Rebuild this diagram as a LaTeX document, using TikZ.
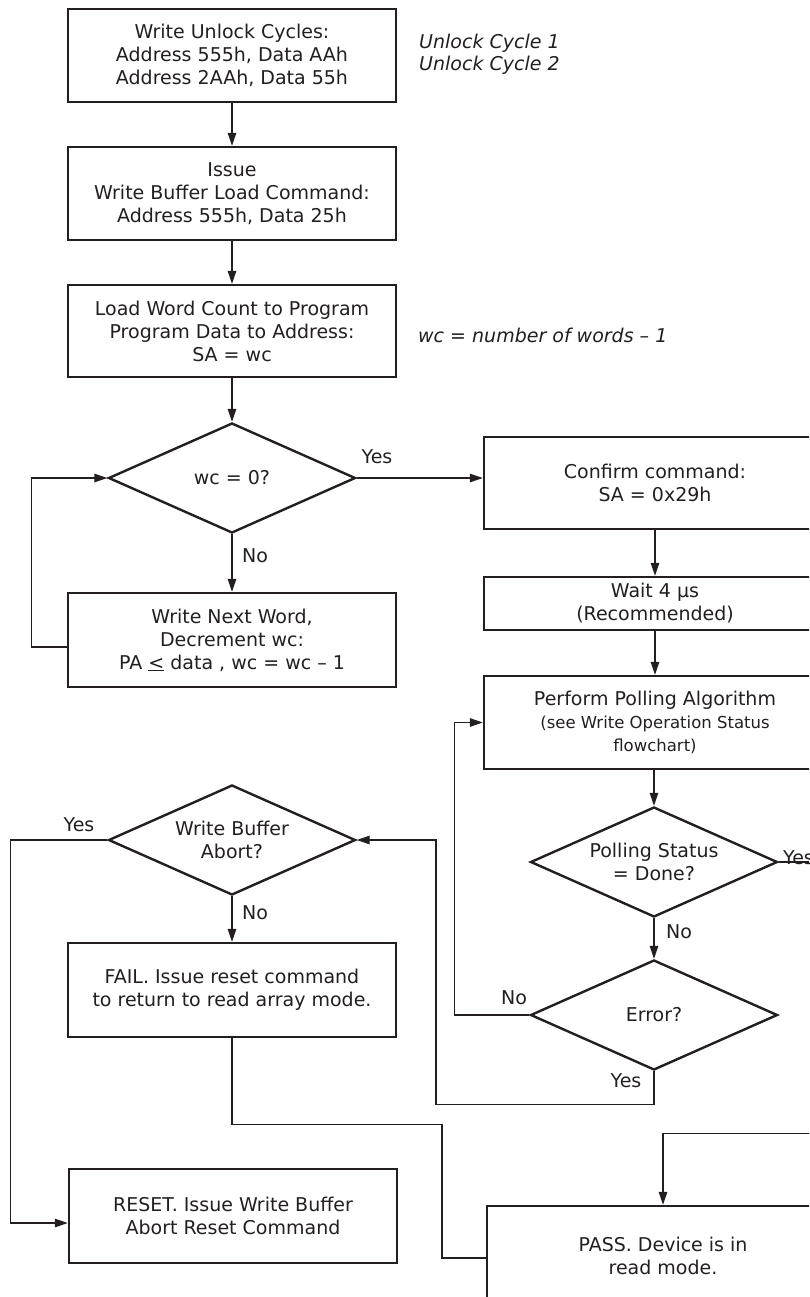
\documentclass[tikz,border=0pt]{standalone}
\usepackage{fontspec}
\setmainfont{DejaVu Sans}
\usetikzlibrary{shapes.geometric,arrows.meta,calc}
\definecolor{ink}{RGB}{35,31,32}
\newcommand\mainsz{\fontsize{19}{23}\selectfont}
\newcommand\smallsz{\fontsize{16.5}{21.5}\selectfont}
\tikzset{
  box/.style={draw=ink, line width=2.4pt, rectangle, align=center, inner sep=0pt,
              text=ink, font=\mainsz},
  dia/.style={draw=ink, line width=2.4pt, diamond, minimum width=247pt,
              minimum height=110pt, inner sep=0pt},
  txt/.style={text=ink, font=\mainsz, align=center, inner sep=0pt},
  note/.style={text=ink, font=\mainsz\itshape, align=left, inner sep=0pt, anchor=west},
  conn/.style={draw=ink, line width=1.3pt},
  arr/.style={conn, -{Triangle[length=13pt,width=8.5pt]}},
}
\begin{document}
\begin{tikzpicture}[x=1pt,y=-1pt]
\useasboundingbox (0,0) rectangle (809,1297);
\clip (0,0) rectangle (809,1297);
\fill[white] (0,0) rectangle (809,1297);

% left column
\node[box, minimum width=328pt, minimum height=93pt] (unlock) at (232,55.5)
  {Write Unlock Cycles:\\Address 555h, Data AAh\\Address 2AAh, Data 55h};
\node[box, minimum width=328pt, minimum height=93pt] (load) at (232,193.5)
  {Issue\\Write Buffer Load Command:\\Address 555h, Data 25h};
\node[box, minimum width=328pt, minimum height=92pt] (count) at (232,331)
  {Load Word Count to Program\\Program Data to Address:\\SA = wc};
\node[dia] (d1) at (232,478) {};
\node[txt] (d1t) at (d1) {wc = 0?};
\node[box, minimum width=328pt, minimum height=94pt] (next) at (232,640)
  {Write Next Word,\\Decrement wc:\\PA \underline{<} data , wc = wc -- 1};
\node[dia] (abort) at (232,840) {};
\node[txt] (abortt) at (abort) {Write Buffer\\Abort?};
\node[box, minimum width=328pt, minimum height=94pt] (fail) at (232,990)
  {FAIL. Issue reset command\\to return to read array mode.};
\node[box, minimum width=328pt, minimum height=94pt] (reset) at (233,1216)
  {RESET. Issue Write Buffer\\Abort Reset Command};

% side notes
\node[note] (n1) at (419,43) {Unlock Cycle 1};
\node[note] (n2) at (419,65) {Unlock Cycle 2};
\node[note] (n3) at (418,335) {wc = number of words -- 1};

% right column
\node[box, minimum width=342pt, minimum height=92pt] (confirm) at (655,483)
  {Confirm command:\\SA = 0x29h};
\node[box, minimum width=342pt, minimum height=53pt] (wait) at (655,603.5)
  {Wait 4 μs\\(Recommended)};
\node[box, minimum width=342pt, minimum height=93pt] (poll) at (655,722.5)
  {Perform Polling Algorithm\\{\smallsz (see Write Operation Status}\\{\smallsz flowchart)}};
\node[dia] (status) at (654,862) {};
\node[txt] (statust) at (status) {Polling Status\\= Done?};
\node[dia] (error) at (654,1015) {};
\node[txt] (errort) at (error) {Error?};
\node[box, minimum width=352pt, minimum height=100pt] (pass) at (663,1256)
  {PASS. Device is in\\read mode.};

% connectors
\draw[arr] (unlock) -- (load);
\draw[arr] (load) -- (count);
\draw[arr] (count) -- (d1);
\draw[arr] (d1.east) -- (d1.east -| confirm.west);
\draw[arr] (d1) -- (next);
\draw[arr] ($(next.west)+(0,7)$) -- ++(-35,0) |- (d1.west);
\draw[arr] (confirm) -- (wait);
\draw[arr] (wait) -- (poll);
\draw[arr] (poll.south -| status) -- (status.north);
\draw[arr] (status) -- (error);
\draw[arr] (status.east) -- ++(63,0) |- ($(pass.north)+(0,-71)$) -- (pass.north);
\draw[arr] (error.west) -- ++(-75,0) |- (poll.west);
\draw[arr] (error.south) -- ++(0,33) -- ++(-218,0) |- (abort.east);
\draw[arr] (abort.west) -- ++(-96.5,0) |- ($(reset.west)+(0,7)$);
\draw[arr] (abort) -- (fail);
\draw[conn] (fail.south) -- ++(0,86) -- ++(210,0) |- ($(pass.west)+(0,2)$);

% branch labels
\node[txt] (y1) at (377,457) {Yes};
\node[txt] (no1) at (255,556) {No};
\node[txt] (y2) at (79,825) {Yes};
\node[txt] (no2) at (255,913) {No};
\node[txt, anchor=west] (y3) at (783,858) {Yes};
\node[txt] (no3) at (679,932) {No};
\node[txt] (no4) at (514,998) {No};
\node[txt] (y4) at (626,1081) {Yes};
\end{tikzpicture}
\end{document}
